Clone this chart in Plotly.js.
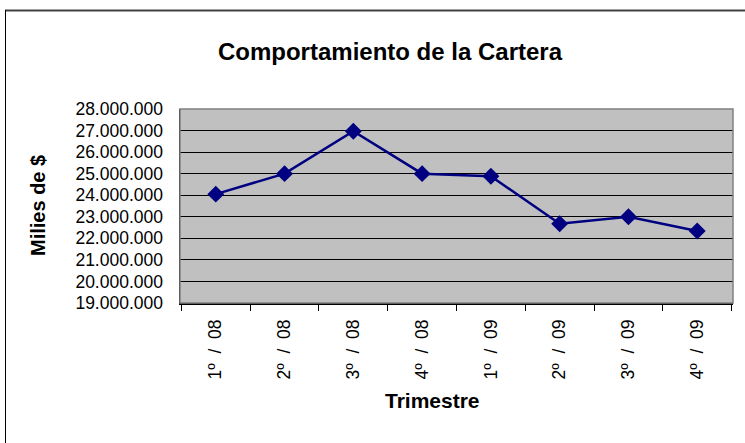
<!DOCTYPE html>
<html>
<head>
<meta charset="utf-8">
<script src="https://cdn.plot.ly/plotly-3.0.1.min.js"></script>
<style>html,body{margin:0;padding:0;background:#fff;}#chart{width:745px;height:443px;}</style>
</head>
<body>
<div id="chart"></div>
<script>
const categories = ["1º / 08", "2º / 08", "3º / 08", "4º / 08", "1º / 09", "2º / 09", "3º / 09", "4º / 09"];
const tickLabels = ["1º\u00a0 /\u00a0 08", "2º\u00a0 /\u00a0 08", "3º\u00a0 /\u00a0 08", "4º\u00a0 /\u00a0 08", "1º\u00a0 /\u00a0 09", "2º\u00a0 /\u00a0 09", "3º\u00a0 /\u00a0 09", "4º\u00a0 /\u00a0 09"];
const cartera = [24050000, 25000000, 26970000, 25000000, 24880000, 22680000, 23000000, 22340000];
const chartTitle = "Comportamiento de la Cartera";
const xTitle = "Trimestre";
const yTitle = "Milies de $";

const W = 745, H = 443;
const L = 180, R = 733, T = 109, B = 303;
const px = v => (v - L) / (R - L);
const py = v => (B - v) / (B - T);
const font = "Liberation Sans, Arial, sans-serif";

const trace = {
  type: "scatter", mode: "lines+markers",
  x: categories, y: cartera,
  line: {color: "#000080", width: 2.5},
  marker: {symbol: "diamond", size: 13, color: "#000080"},
  cliponaxis: false, hoverinfo: "x+y"
};

const layout = {
  width: W, height: H,
  margin: {l: L, r: W - R, t: T, b: H - B, pad: 0},
  paper_bgcolor: "#ffffff", plot_bgcolor: "#c0c0c0",
  separators: ",.",
  showlegend: false,
  font: {family: font, color: "#000", size: 17},
  title: {text: chartTitle, font: {family: font, size: 24, color: "#000", weight: "bold"},
          x: 390 / W, xref: "container", xanchor: "center", y: 1 - 52 / H, yref: "container", yanchor: "middle"},
  xaxis: {
    type: "category", tickson: "boundaries", ticks: "outside", ticklen: 6, tickcolor: "#000", tickwidth: 1,
    tickvals: categories, ticktext: tickLabels,
    tickangle: -90, tickfont: {family: font, size: 17.5, color: "#000"},
    showgrid: false, showline: true, linecolor: "#000", linewidth: 1.5, zeroline: false,
    ticklabelstandoff: 8, automargin: false, fixedrange: true
  },
  yaxis: {
    range: [19000000, 28000000], dtick: 1000000, tick0: 19000000, tickformat: ",d",
    ticks: "outside", ticklen: 12, tickcolor: "rgba(0,0,0,0)", tickwidth: 1,
    minor: {ticks: "outside", ticklen: 5, tickcolor: "#000", tickwidth: 1, dtick: 1000000, tick0: 19000000, showgrid: false},
    tickfont: {family: font, size: 17.5, color: "#000"},
    showgrid: true, gridcolor: "#000", gridwidth: 1, zeroline: false,
    showline: true, linecolor: "#000", linewidth: 1.5, automargin: false, fixedrange: true
  },
  annotations: [
    {text: yTitle, xref: "paper", yref: "paper", x: px(38), y: py(206), showarrow: false,
     textangle: -90, xanchor: "center", yanchor: "middle", font: {family: font, size: 20, color: "#000", weight: "bold"}},
    {text: xTitle, xref: "paper", yref: "paper", x: px(432), y: py(400), showarrow: false,
     xanchor: "center", yanchor: "middle", font: {family: font, size: 21, color: "#000", weight: "bold"}}
  ],
  shapes: [
    {type: "rect", xref: "paper", yref: "paper", x0: 0, x1: 1, y0: 0, y1: 1, line: {color: "#808080", width: 1.5}, layer: "above"},
    {type: "line", xref: "paper", yref: "paper", x0: px(5), x1: px(745), y0: py(10.5), y1: py(10.5), line: {color: "#404040", width: 2}},
    {type: "line", xref: "paper", yref: "paper", x0: px(5.5), x1: px(5.5), y0: py(10), y1: py(443), line: {color: "#000", width: 1}}
  ]
};

Plotly.newPlot("chart", [trace], layout, {displayModeBar: false, staticPlot: true});
</script>
</body>
</html>
